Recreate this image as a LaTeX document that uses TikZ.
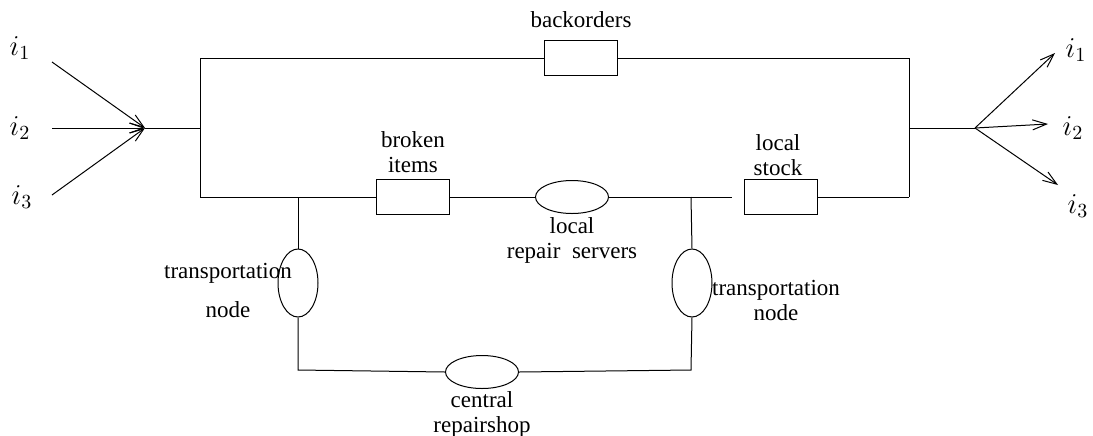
\documentclass[tikz,border=0pt]{standalone}
\usepackage{fontspec}
\setmainfont{Liberation Serif}
\usetikzlibrary{shapes.geometric,arrows.meta}
\begin{document}
\begin{tikzpicture}[x=0.5pt,y=-0.5pt,line width=0.5pt,
  box/.style={draw,rectangle,line width=0.6pt,minimum width=36.5pt,minimum height=17.5pt,inner sep=0pt},
  hell/.style={draw,ellipse,minimum width=36.5pt,minimum height=16.5pt,inner sep=0pt},
  vell/.style={draw,ellipse,minimum width=20pt,minimum height=34pt,inner sep=0pt},
  lab/.style={align=center,inner sep=0pt,font=\fontsize{11.5}{12.5}\selectfont},
  >={Straight Barb[length=7pt,width=5pt]}]
\useasboundingbox (0,0) rectangle (1093,435);
% boxes and servers
\node[box] (back) at (581,58) {};
\node[box] (broken) at (413,197) {};
\node[hell] (repair) at (572,197) {};
\node[box] (stock) at (781,197) {};
\node[vell] (transl) at (298,283) {};
\node[vell] (transr) at (692,283) {};
\node[hell] (central) at (482,372) {};
% labels
\node[lab] (backlab) at (581,20) {backorders};
\node[lab] (brokenlab) at (413,152) {broken\\items};
\node[lab] (repairlab) at (572,240) {local\\repair\ \ servers};
\node[lab] (stocklab) at (778,155) {local\\stock};
\node[lab] (transllab) at (228,290) {transportation\\[7pt]node};
\node[lab] (transrlab) at (776,300) {transportation\\node};
\node[lab] (centrallab) at (482,414) {central\\repairshop};
\node (inone) at (20,48) {\Large $i_1$};
\node (intwo) at (20,128) {\Large $i_2$};
\node (inthree) at (22,197) {\Large $i_3$};
\node (outone) at (1076,50) {\Large $i_1$};
\node (outtwo) at (1073,128) {\Large $i_2$};
\node (outthree) at (1078,206) {\Large $i_3$};
% corners and junctions
\coordinate (s1) at (52,62);
\coordinate (s2) at (52,128);
\coordinate (s3) at (52,195);
\coordinate (inL) at (145,128);
\coordinate (tl) at (200,58);
\coordinate (ml) at (200,128);
\coordinate (bl) at (200,197);
\coordinate (tr) at (909,58);
\coordinate (mr) at (909,128);
\coordinate (br) at (909,197);
\coordinate (outR) at (975,128);
\coordinate (e1) at (1055,53);
\coordinate (e2) at (1048,124);
\coordinate (e3) at (1058,185);
\coordinate (jl) at (298,197);
\coordinate (jr) at (691,197);
\coordinate (cl) at (298,370);
\coordinate (cr) at (691,370);
\coordinate (gap) at (732,197);
% arrivals and departures
\draw[->] (s1) -- (inL);
\draw[->] (s2) -- (inL);
\draw[->] (s3) -- (inL);
\draw[->] (outR) -- (e1);
\draw[->] (outR) -- (e2);
\draw[->] (outR) -- (e3);
% network
\draw (inL) -- (ml);
\draw (bl) -- (tl) -- (back.west);
\draw (back.east) -- (tr) -- (br);
\draw (mr) -- (outR);
\draw (bl) -- (broken.west);
\draw (broken.east) -- (repair.west);
\draw (repair.east) -- (gap);
\draw (stock.east) -- (br);
\draw (jl) -- (transl.north);
\draw (transl.south) -- (cl) -- (central.west);
\draw (central.east) -- (cr) -- (transr.south);
\draw (transr.north) -- (jr);
\end{tikzpicture}
\end{document}
